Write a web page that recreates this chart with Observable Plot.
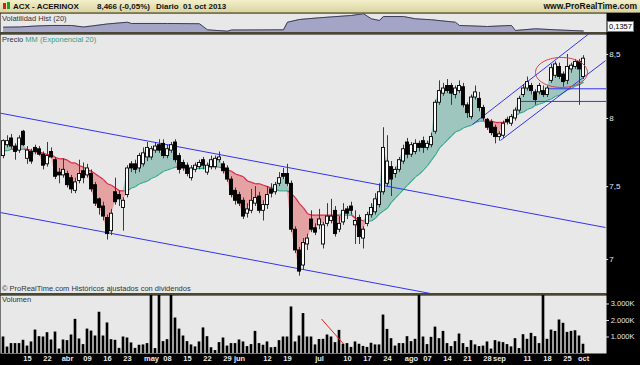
<!DOCTYPE html>
<html><head><meta charset="utf-8">
<script src="https://cdn.jsdelivr.net/npm/d3@7"></script>
<script src="https://cdn.jsdelivr.net/npm/@observablehq/plot@0.6"></script>
<style>
html,body{margin:0;padding:0;background:#000;}
#wrap{position:relative;width:640px;height:365px;overflow:hidden;background:#000;font-family:"Liberation Sans",Arial,sans-serif;}
.abs{position:absolute;white-space:nowrap;}
#title{left:0;top:0;width:640px;height:12px;background:linear-gradient(#f3efca,#dad5a2);border-bottom:1px solid #8a845c;}
.tt{font-weight:bold;font-size:8px;color:#111;top:1px;line-height:11px;}
.lab{font-size:7.5px;color:#333;line-height:9px;}
.sep{left:0;width:606px;background:#4a4630;}
</style></head>
<body><div id="wrap">
<div id="title" class="abs"></div>
<div class="abs" style="left:3px;top:3px;width:3px;height:6px;background:#d02020;"></div>
<div class="abs" style="left:7px;top:2px;width:3px;height:7px;background:#20a020;"></div>
<div class="abs tt" style="left:13px;">ACX - ACERINOX</div>
<div class="abs tt" style="left:97px;">8,466 (-0,05%)</div>
<div class="abs tt" style="left:156px;">Diario&nbsp;&nbsp;01 oct 2013</div>
<div class="abs tt" style="right:3px;font-size:8.5px;">www.ProRealTime.com</div>
<div id="vh" class="abs" style="left:0;top:13px;"></div>
<div id="pr" class="abs" style="left:0;top:33px;"></div>
<div id="vo" class="abs" style="left:0;top:294px;"></div>
<div class="abs sep" style="top:32px;height:2px;"></div>
<div class="abs sep" style="top:293px;height:2px;"></div>
<div class="abs lab" style="left:2px;top:14px;">Volatilidad Hist (20)</div>
<div class="abs lab" style="left:2px;top:35px;">Precio <span style="color:#2f9f86">MM (Exponencial 20)</span></div>
<div class="abs lab" style="left:2px;top:284px;">© ProRealTime.com Históricos ajustados con dividendos</div>
<div class="abs lab" style="left:2px;top:295px;">Volumen</div>
<div class="abs" style="left:607px;top:21px;width:25px;height:9px;background:#fafafa;border:1px solid #777;font-size:7.5px;line-height:9px;text-align:center;color:#000;">0,1357</div>
</div>
<script>
// ---- Data ----
const open  = [7.72,7.80,7.85,7.79,7.76,7.90,7.70,7.75,7.78,7.77,7.73,7.66,7.75,7.69,7.60,7.58,7.59,7.56,7.47,7.54,
7.61,7.58,7.59,7.51,7.41,7.36,7.28,7.19,7.46,7.44,7.35,7.44,7.66,7.66,7.63,7.66,7.71,7.71,7.76,7.80,
7.81,7.72,7.76,7.82,7.72,7.67,7.65,7.56,7.62,7.64,7.69,7.60,7.64,7.64,7.69,7.66,7.63,7.55,7.47,7.44,
7.40,7.31,7.33,7.38,7.43,7.33,7.37,7.48,7.46,7.52,7.59,7.59,7.52,7.20,7.06,6.96,7.10,7.27,7.21,7.23,
7.10,7.24,7.26,7.33,7.20,7.25,7.34,7.36,7.23,7.28,7.14,7.24,7.30,7.32,7.37,7.46,7.52,7.64,7.59,7.62,
7.68,7.82,7.73,7.75,7.81,7.83,7.78,7.80,7.90,8.12,8.19,8.25,8.25,8.18,8.21,8.24,8.10,8.01,8.16,8.15,
8.08,7.99,7.97,7.93,7.86,7.87,7.99,7.96,8.00,8.06,8.18,8.23,8.25,8.20,8.20,8.21,8.18,8.29,8.33,8.40,
8.34,8.29,8.38,8.40,8.44,8.32];
const high  = [7.84,7.87,7.88,7.81,7.87,7.91,7.79,7.77,7.80,7.79,7.75,7.82,7.78,7.71,7.63,7.70,7.61,7.58,7.56,7.69,
7.67,7.66,7.62,7.53,7.42,7.39,7.30,7.34,7.56,7.47,7.42,7.65,7.68,7.69,7.74,7.78,7.82,7.79,7.82,7.84,
7.84,7.80,7.82,7.84,7.74,7.69,7.67,7.65,7.67,7.69,7.71,7.67,7.72,7.72,7.75,7.68,7.65,7.57,7.49,7.46,
7.42,7.38,7.48,7.50,7.46,7.40,7.50,7.52,7.53,7.60,7.63,7.66,7.54,7.22,7.08,7.14,7.17,7.33,7.24,7.34,
7.25,7.38,7.41,7.36,7.29,7.38,7.36,7.39,7.33,7.30,7.22,7.32,7.38,7.45,7.52,7.93,7.87,7.68,7.64,7.71,
7.80,7.85,7.82,7.84,7.83,7.86,7.83,7.89,8.14,8.29,8.27,8.30,8.27,8.25,8.29,8.27,8.12,8.18,8.25,8.20,
8.10,8.00,7.99,7.95,7.90,7.98,8.01,8.03,8.08,8.17,8.26,8.32,8.27,8.22,8.27,8.25,8.25,8.42,8.44,8.43,
8.36,8.50,8.43,8.46,8.46,8.49];
const low   = [7.70,7.78,7.77,7.69,7.74,7.79,7.66,7.66,7.73,7.72,7.62,7.64,7.70,7.55,7.52,7.56,7.49,7.45,7.45,7.52,
7.52,7.56,7.46,7.36,7.30,7.26,7.13,7.16,7.37,7.36,7.19,7.42,7.60,7.59,7.60,7.64,7.68,7.69,7.74,7.74,
7.70,7.70,7.74,7.67,7.59,7.61,7.57,7.54,7.60,7.62,7.62,7.58,7.62,7.62,7.67,7.59,7.53,7.42,7.37,7.36,
7.27,7.28,7.31,7.36,7.31,7.26,7.34,7.42,7.44,7.50,7.55,7.50,7.18,7.04,6.89,6.93,7.06,7.18,7.16,7.20,
7.07,7.22,7.24,7.15,7.18,7.23,7.27,7.30,7.10,7.10,7.07,7.22,7.28,7.30,7.35,7.44,7.50,7.43,7.56,7.60,
7.66,7.70,7.71,7.73,7.75,7.74,7.76,7.78,7.88,8.10,8.17,8.19,8.10,8.15,8.19,8.08,8.00,7.99,8.14,8.05,
7.98,7.91,7.87,7.81,7.83,7.85,7.95,7.94,7.98,8.04,8.16,8.21,8.18,8.10,8.18,8.16,8.16,8.27,8.31,8.30,
8.24,8.26,8.35,8.38,8.10,8.30];
const close = [7.83,7.83,7.79,7.75,7.85,7.80,7.76,7.68,7.75,7.73,7.65,7.72,7.71,7.57,7.58,7.62,7.51,7.48,7.53,7.59,
7.56,7.63,7.48,7.38,7.35,7.29,7.17,7.31,7.39,7.41,7.40,7.63,7.63,7.62,7.72,7.74,7.78,7.77,7.79,7.76,
7.72,7.77,7.80,7.69,7.62,7.63,7.59,7.63,7.65,7.67,7.65,7.65,7.69,7.70,7.71,7.61,7.55,7.44,7.40,7.38,
7.29,7.34,7.40,7.42,7.33,7.37,7.44,7.45,7.51,7.56,7.57,7.52,7.20,7.06,6.92,7.11,7.14,7.20,7.18,7.27,
7.23,7.29,7.29,7.17,7.24,7.33,7.31,7.33,7.26,7.15,7.20,7.30,7.35,7.41,7.46,7.78,7.68,7.55,7.62,7.69,
7.77,7.73,7.80,7.81,7.78,7.78,7.81,7.86,8.12,8.21,8.23,8.21,8.19,8.23,8.25,8.10,8.04,8.16,8.20,8.08,
8.00,7.93,7.89,7.86,7.88,7.96,7.97,8.01,8.06,8.15,8.23,8.28,8.21,8.14,8.25,8.18,8.23,8.39,8.42,8.32,
8.28,8.40,8.41,8.44,8.38,8.466];
const ema   = [7.76,7.76,7.77,7.77,7.77,7.77,7.77,7.76,7.75,7.75,7.74,7.73,7.73,7.71,7.70,7.70,7.69,7.67,7.67,7.65,
7.64,7.62,7.61,7.59,7.57,7.55,7.52,7.51,7.49,7.47,7.47,7.47,7.49,7.50,7.52,7.53,7.54,7.56,7.57,7.59,
7.61,7.62,7.63,7.64,7.64,7.64,7.63,7.63,7.63,7.63,7.63,7.64,7.64,7.64,7.64,7.63,7.62,7.61,7.59,7.58,
7.57,7.54,7.53,7.52,7.52,7.51,7.50,7.49,7.48,7.47,7.47,7.47,7.45,7.42,7.38,7.35,7.31,7.30,7.30,7.30,
7.30,7.30,7.30,7.30,7.30,7.30,7.30,7.30,7.28,7.27,7.26,7.26,7.26,7.28,7.31,7.33,7.35,7.39,7.42,7.45,
7.48,7.51,7.54,7.57,7.59,7.62,7.65,7.69,7.73,7.78,7.81,7.84,7.87,7.90,7.91,7.93,7.94,7.95,7.97,7.98,
7.98,7.98,7.98,7.97,7.97,7.97,7.98,8.00,8.02,8.04,8.05,8.07,8.08,8.10,8.11,8.12,8.14,8.15,8.17,8.18,
8.20,8.22,8.23,8.25,8.26,8.28];
const volumeK = [1000,390,600,600,600,800,450,700,1420,1020,
1000,1260,820,1300,270,820,780,1120,2070,880,
540,1480,1360,1060,2500,1060,1850,840,800,310,
1000,940,640,310,500,520,600,4400,300,4600,
720,840,4300,2150,1480,1060,720,520,400,700,
1550,1020,350,180,660,940,450,600,600,820,
700,420,540,1340,600,500,700,350,370,780,
1000,1000,2820,700,1060,2420,1000,1000,520,850,
860,1120,1000,660,1400,560,600,370,700,560,
430,370,620,520,520,2330,1460,900,450,600,
600,1020,720,860,4600,1000,540,980,1600,900,
1340,600,420,720,1180,600,370,780,520,420,
450,700,270,780,700,660,540,400,900,300,
1140,860,1220,1020,600,4800,860,1420,1340,2030,
1830,1280,1340,1380,1060,560];
const volHistDay = [0,4,8,12,17,20,22,26,31,32,41,49,51,56,57,70,71,74,79,87,90,92,94,95,100,103,107,113,114,121,127,128,133,138,145];
const volHist    = [0.176,0.178,0.188,0.194,0.194,0.178,0.188,0.210,0.228,0.215,0.215,0.212,0.148,0.134,0.146,0.148,0.228,0.257,0.275,0.299,0.317,0.264,0.246,0.288,0.288,0.264,0.254,0.228,0.194,0.183,0.194,0.141,0.159,0.148,0.1357];
const xTickDay   = [6,11,16,21,26,31,37,41,46,51,56,59,66,71,79,86,91,96,102,106,111,116,121,124,131,136,141,145];
const xTickLabel = ["15","22","abr","09","16","23","may","08","15","22","29","jun","12","19","jul","10","17","24","ago","07","14","21","28","sep","11","18","25","oct"];
const priceTicks = [7, 7.5, 8, 8.5];
const volTicks   = [1000, 2000, 3000];
// trend lines drawn on the chart: [day1, price1, day2, price2]
const trendDay1   = [-0.75, -0.75, 117.25, 124.25, 136, 129.25];
const trendPrice1 = [8.04, 7.318, 7.955, 7.835, 8.228, 8.13];
const trendDay2   = [150.5, 150.5, 146.75, 150.5, 150.75, 150.75];
const trendPrice2 = [7.215, 6.57, 8.678, 8.45, 8.228, 8.13];
// red ellipse annotation: centre day, centre price, half-width (days), half-height (log units)
const ellipseSpec = [139.5, 8.356, 6.5, 0.0142];
// red hand-drawn line in the volume pane
const volLine = [79.5, 2090, 85, 580];

// ---- Build ----
const FONT = '"Liberation Sans", Arial, sans-serif';
const XD = [-0.75, 150.75];
const bars = close.map((c, i) => ({i, o: open[i], h: high[i], l: low[i], c, e: ema[i], v: volumeK[i]}));
const segs = bars.slice(1).map((d, k) => ({i1: k, e1: bars[k].e, i2: d.i, e2: d.e, up: d.c >= d.e}));
const trends = trendDay1.map((d, k) => ({x1: d, y1: trendPrice1[k], x2: trendDay2[k], y2: trendPrice2[k]}));
const ell = d3.range(0, 73).map(k => {
  const t = k / 72 * 2 * Math.PI;
  return {x: ellipseSpec[0] + ellipseSpec[2] * Math.cos(t), y: ellipseSpec[1] * Math.exp(ellipseSpec[3] * Math.sin(t))};
});
const vh = volHistDay.map((d, k) => ({i: d, v: volHist[k]}));
const fmtP = d => String(d).replace(".", ",");

const vhPlot = Plot.plot({
  width: 640, height: 19, marginLeft: 0, marginRight: 34, marginTop: 0, marginBottom: 0,
  style: {background: "transparent", overflow: "visible", fontFamily: FONT},
  x: {domain: XD, axis: null}, y: {domain: [0.12, 0.32], axis: null},
  marks: [
    Plot.frame({fill: "#e8e8e8"}),
    Plot.areaY(vh, {x: "i", y1: 0.12, y2: "v", fill: "#a4a4c6"}),
    Plot.line(vh, {x: "i", y: "v", stroke: "#3e3e56", strokeWidth: 1})
  ]
});
document.getElementById("vh").appendChild(vhPlot);

const prPlot = Plot.plot({
  width: 640, height: 260, marginLeft: 0, marginRight: 34, marginTop: 1, marginBottom: 0,
  style: {background: "transparent", overflow: "visible", fontFamily: FONT},
  x: {domain: XD, axis: null},
  y: {type: "log", domain: [6.778, 8.662], axis: null},
  marks: [
    Plot.frame({fill: "#e8e8e8"}),
    Plot.areaY(bars, {x: "i", y1: "e", y2: d => Math.max(d.c, d.e), fill: "#9fc5bf"}),
    Plot.areaY(bars, {x: "i", y1: "e", y2: d => Math.min(d.c, d.e), fill: "#e4a2a2"}),
    Plot.link(segs.filter(d => d.up), {x1: "i1", y1: "e1", x2: "i2", y2: "e2", stroke: "#34a588", strokeWidth: 1.2}),
    Plot.link(segs.filter(d => !d.up), {x1: "i1", y1: "e1", x2: "i2", y2: "e2", stroke: "#d42a48", strokeWidth: 1.2}),
    Plot.link(trends, {x1: "x1", y1: "y1", x2: "x2", y2: "y2", stroke: "#3434f0", strokeWidth: 1, clip: true}),
    Plot.ruleX(bars, {x: "i", y1: "l", y2: "h", stroke: "#3a3a3a", strokeWidth: 1}),
    Plot.rect(bars.filter(d => d.c >= d.o), {x1: d => d.i - 0.38, x2: d => d.i + 0.38, y1: "o", y2: "c", fill: "#fff", stroke: "#000", strokeWidth: 0.9}),
    Plot.rect(bars.filter(d => d.c < d.o), {x1: d => d.i - 0.38, x2: d => d.i + 0.38, y1: "o", y2: "c", fill: "#000", stroke: "#000", strokeWidth: 0.9}),
    Plot.line(ell, {x: "x", y: "y", stroke: "#e23a3a", strokeWidth: 1}),
    Plot.ruleY(priceTicks, {y: d => d, x1: 150.75, x2: 151.3, stroke: "#e0e0e0"}),
    Plot.text(priceTicks, {y: d => d, x: 151.45, text: fmtP, textAnchor: "start", fill: "#e8e8e8", fontSize: 8})
  ]
});
document.getElementById("pr").appendChild(prPlot);

const voPlot = Plot.plot({
  width: 640, height: 71, marginLeft: 0, marginRight: 34, marginTop: 1, marginBottom: 12,
  style: {background: "transparent", overflow: "visible", fontFamily: FONT},
  x: {domain: XD, axis: null}, y: {domain: [0, 3515], axis: null},
  marks: [
    Plot.frame({fill: "#e8e8e8"}),
    Plot.rectY(bars, {x1: d => d.i - 0.33, x2: d => d.i + 0.33, y: "v", fill: "#000", clip: true}),
    Plot.link([volLine], {x1: d => d[0], y1: d => d[1], x2: d => d[2], y2: d => d[3], stroke: "#e02424", strokeWidth: 1}),
    Plot.ruleY(volTicks, {y: d => d, x1: 150.75, x2: 151.5, stroke: "#e0e0e0"}),
    Plot.text(volTicks, {y: d => d, x: 151.8, text: d => (d / 1000) + ".000K", textAnchor: "start", fill: "#e8e8e8", fontSize: 7.5}),
    Plot.text(xTickDay, {x: d => d, frameAnchor: "bottom", dy: 7, text: (d, k) => xTickLabel[k], fill: "#e8e8e8", fontSize: 7.5, fontWeight: "bold"})
  ]
});
document.getElementById("vo").appendChild(voPlot);
</script>
</body></html>
